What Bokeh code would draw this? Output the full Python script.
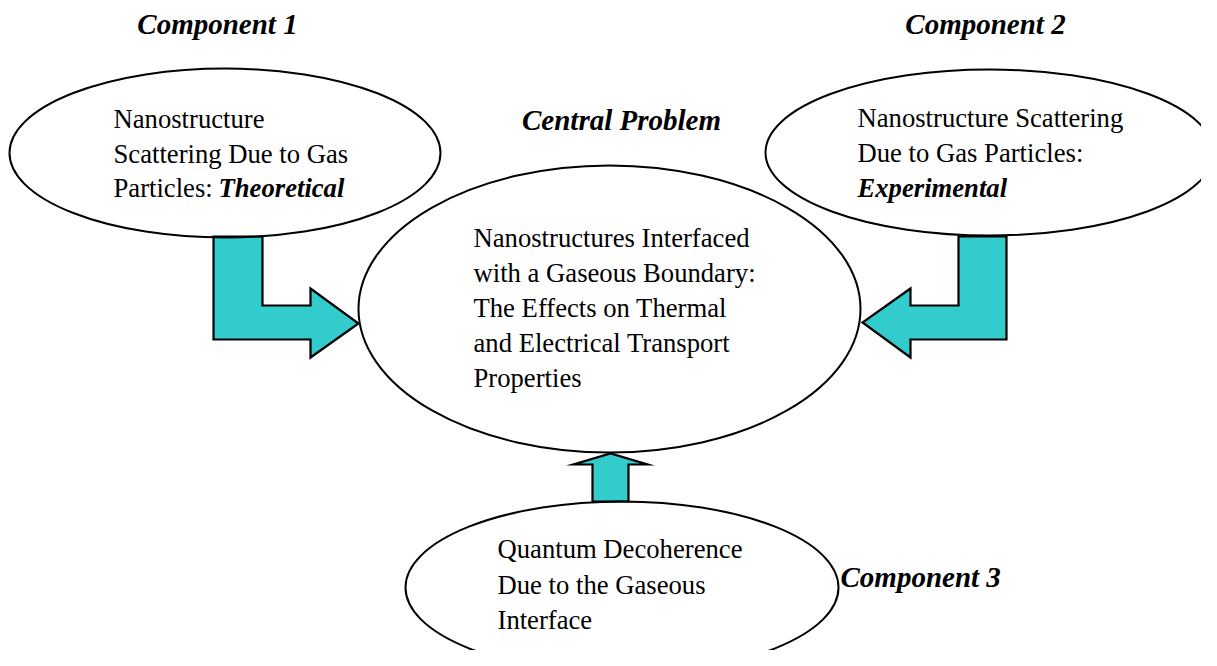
from bokeh.plotting import figure
from bokeh.models import Range1d
from bokeh.core.properties import value
from bokeh.embed import file_html
from bokeh.resources import INLINE

# ---- diagram content (reference pixel coordinates, y measured from top) ----
H = 666
def Y(v):
    return H - v

# ellipses: center x, center y, width, height
ell_x = [224.5, 609, 989, 621.5]
ell_y = [152.5, 308.5, 152, 587]
ell_w = [431, 502, 448, 433]
ell_h = [169, 287, 166, 172]

# headings (bold italic), center-aligned except Component 3
head_text = ["Component 1", "Central Problem", "Component 2"]
head_x = [217, 621, 985]
head_y = [33, 129, 33]
comp3_text = "Component 3"
comp3_x, comp3_y = 840, 586

# body text lines (baselines)
e1_lines = ["Nanostructure", "Scattering Due to Gas", "Particles: "]
e1_x, e1_y = 113, [128, 163, 197]
e1_bold = "Theoretical"
e1_bold_x = 218

c_lines = ["Nanostructures Interfaced", "with a Gaseous Boundary:",
           "The Effects on Thermal", "and Electrical Transport", "Properties"]
c_x, c_y = 473, [247, 282, 317, 352, 387]

e2_lines = ["Nanostructure Scattering", "Due to Gas Particles:"]
e2_x, e2_y = 857, [127, 162]
e2_bold = "Experimental"
e2_bold_y = 197

e3_lines = ["Quantum Decoherence", "Due to the Gaseous", "Interface"]
e3_x, e3_y = 497, [558, 594, 629]

# arrows (polygons)
arrow_left_x = [213, 262, 262, 310, 310, 358, 310, 310, 213]
arrow_left_y = [236, 236, 305, 305, 288, 323, 357, 339, 339]
arrow_right_x = [958, 1006, 1006, 910, 910, 862, 910, 910, 958]
arrow_right_y = [236, 236, 339, 339, 357, 322, 288, 305, 305]
arrow_up_x = [592, 628, 628, 647, 610, 573, 592]
arrow_up_y = [501, 501, 464, 464, 453, 464, 464]

TEAL = "#33CCCC"
FONT = value("Liberation Serif")
BODY = "26.67px"
HEAD = "29px"
TEXT_SHIFT = -10  # baseline correction for SVG text placement

p = figure(width=1201, height=650, output_backend="svg", toolbar_location=None,
           x_range=Range1d(0, 1201), y_range=Range1d(Y(650), Y(0)),
           min_border=0, outline_line_color=None)
p.axis.visible = False
p.grid.visible = False
p.background_fill_color = "white"
p.border_fill_color = "white"

for xs, ys in [(arrow_left_x, arrow_left_y), (arrow_right_x, arrow_right_y), (arrow_up_x, arrow_up_y)]:
    p.patch(xs, [Y(v) for v in ys], fill_color=TEAL, line_color="black", line_width=2.2,
            line_join="miter")

p.ellipse(x=ell_x, y=[Y(v) for v in ell_y], width=ell_w, height=ell_h,
          fill_color=None, line_color="black", line_width=2)

def txt(xs, ys, texts, size=BODY, style="normal", align="left"):
    p.text(x=xs, y=[Y(v + TEXT_SHIFT) for v in ys], text=texts, text_font=FONT,
           text_font_size=size, text_font_style=style, text_align=align,
           text_baseline="alphabetic", text_color="black")

txt(head_x, head_y, head_text, size=HEAD, style="bold italic", align="center")
txt([comp3_x], [comp3_y], [comp3_text], size=HEAD, style="bold italic")

txt([e1_x] * len(e1_lines), e1_y, e1_lines)
txt([e1_bold_x], [e1_y[2]], [e1_bold], style="bold italic")
txt([c_x] * len(c_lines), c_y, c_lines)
txt([e2_x] * len(e2_lines), e2_y, e2_lines)
txt([e2_x], [e2_bold_y], [e2_bold], style="bold italic")
txt([e3_x] * len(e3_lines), e3_y, e3_lines)

open("out.html", "w").write(file_html(p, INLINE))
